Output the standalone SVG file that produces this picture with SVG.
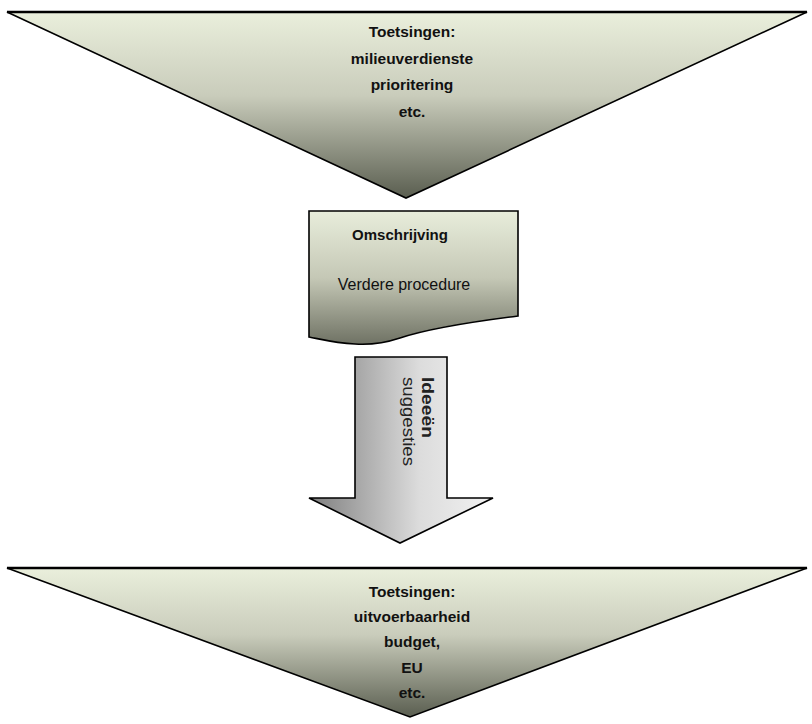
<svg xmlns="http://www.w3.org/2000/svg" width="812" height="724" viewBox="0 0 812 724">
<defs>
<linearGradient id="gTri" x1="0" y1="0" x2="0" y2="1">
<stop offset="0" stop-color="#eaefdc"/>
<stop offset="0.45" stop-color="#c9ccbb"/>
<stop offset="1" stop-color="#5a5e50"/>
</linearGradient>
<linearGradient id="gDoc" x1="0" y1="0" x2="0" y2="1">
<stop offset="0" stop-color="#e8eddb"/>
<stop offset="0.5" stop-color="#c5c8b6"/>
<stop offset="1" stop-color="#6f7264"/>
</linearGradient>
<linearGradient id="gArrow" x1="0" y1="0" x2="1" y2="0">
<stop offset="0" stop-color="#7e7e7e"/>
<stop offset="0.6" stop-color="#dcdcdc"/>
<stop offset="1" stop-color="#f2f2f2"/>
</linearGradient>
</defs>
<style>
.shape{stroke:#000;stroke-width:1.6;stroke-linejoin:miter}
.lbl{font-family:"Liberation Sans",Arial,sans-serif;font-weight:bold;font-size:15.5px;fill:#111;text-anchor:middle}
.vlbl{font-family:"Liberation Sans",Arial,sans-serif;font-weight:bold;font-size:16px;fill:#222}
</style>
<rect width="812" height="724" fill="#fff"/>
<g id="toets1">
<polygon class="shape" points="7,12 807,12 406,198" fill="url(#gTri)"/>
<line x1="7" y1="12" x2="807" y2="12" stroke="#000" stroke-width="2.4"/>
<text class="lbl" x="412" y="37">Toetsingen:</text>
<text class="lbl" x="412" y="64">milieuverdienste</text>
<text class="lbl" x="412" y="90">prioritering</text>
<text class="lbl" x="412" y="117">etc.</text>
</g>
<g id="omschrijving">
<path class="shape" d="M309,211 L518,211 L518,316 C470,322 430,328 400,338 C385,343 370,345 355,344 C335,343 320,339 309,337 Z" fill="url(#gDoc)"/>
<text class="lbl" x="400" y="240" style="font-size:15px">Omschrijving</text>
<text class="lbl" x="404" y="290" style="font-size:16px;font-weight:normal">Verdere procedure</text>
</g>
<g id="connectors">
<g id="pijl">
<polygon class="shape" points="355,357 447,357 447,498 493,498 400,543 309,498 355,498" fill="url(#gArrow)"/>
<text class="vlbl" transform="translate(422,377) rotate(90)" textLength="61" lengthAdjust="spacingAndGlyphs">Ideeën</text>
<text class="vlbl" transform="translate(403,377) rotate(90)" style="font-weight:normal" textLength="89" lengthAdjust="spacingAndGlyphs">suggesties</text>
</g>
</g>
<g id="toets2">
<polygon class="shape" points="7,568 807,568 410,717" fill="url(#gTri)"/>
<line x1="7" y1="568" x2="807" y2="568" stroke="#000" stroke-width="2.4"/>
<text class="lbl" x="412" y="597">Toetsingen:</text>
<text class="lbl" x="412" y="622">uitvoerbaarheid</text>
<text class="lbl" x="412" y="647">budget,</text>
<text class="lbl" x="412" y="673">EU</text>
<text class="lbl" x="412" y="698">etc.</text>
</g>
</svg>
